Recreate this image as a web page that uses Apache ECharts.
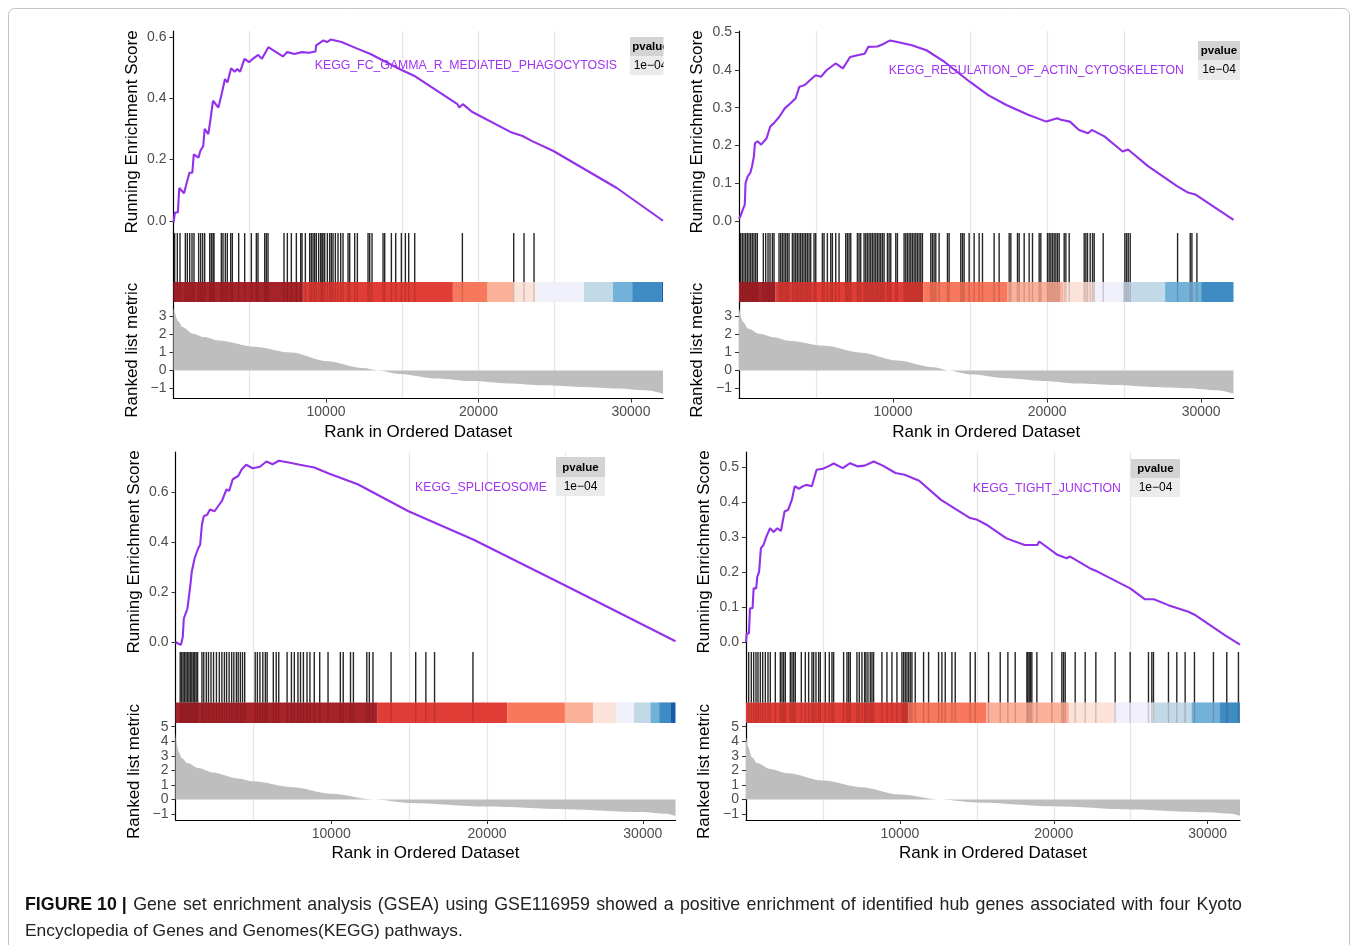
<!DOCTYPE html>
<html>
<head>
<meta charset="utf-8">
<title>GSEA - GSE116959 KEGG</title>
<script src="https://cdn.jsdelivr.net/npm/echarts@6/dist/echarts.min.js"></script>
<style>
    html, body { margin: 0; padding: 0; background: #fff; }
    #chart { width: 1357px; height: 945px; }
</style>
</head>
<body>
<div id="chart"></div>
<script>
// x axis: genes ranked in the ordered dataset
var N_GENES = 32100;
var RANK_TICKS = [10000, 20000, 30000];

// KEGG_FC_GAMMA_R_MEDIATED_PHAGOCYTOSIS
var fcgrScore = [[0, -0.005], [95, 0.027], [285, 0.027], [380, 0.107], [689, 0.09], [926, 0.135], [1045, 0.157], [1235, 0.157],
    [1330, 0.217], [1639, 0.206], [1758, 0.228], [1948, 0.244], [2043, 0.30], [2280, 0.283], [2423, 0.33], [2589, 0.392],
    [2945, 0.37], [3183, 0.42], [3373, 0.463], [3539, 0.452], [3776, 0.498], [4014, 0.487], [4180, 0.496], [4370, 0.487],
    [4655, 0.529], [4964, 0.518], [5201, 0.529], [5558, 0.542], [5795, 0.529], [6223, 0.567], [6626, 0.554], [7173, 0.537],
    [7458, 0.551], [7933, 0.545], [8408, 0.551], [8883, 0.549], [9310, 0.553], [9358, 0.573], [9833, 0.589], [10070, 0.584],
    [10308, 0.592], [11020, 0.584], [11970, 0.564], [12920, 0.545], [14820, 0.496], [15770, 0.474], [18620, 0.381],
    [18739, 0.37], [18976, 0.381], [19570, 0.356], [22183, 0.288], [22301, 0.283], [22895, 0.277], [23489, 0.261],
    [24914, 0.228], [29070, 0.107], [32100, 0.0]];
var fcgrHits = [77, 251, 426, 776, 907, 1060, 1213, 1344, 1650, 1782, 1913, 2044, 2372, 2481, 2590, 2656, 3137, 3246, 3399,
    3530, 3749, 3858, 4274, 4667, 5104, 5432, 5541, 5979, 6088, 6198, 7247, 7466, 7728, 8056, 8340, 8428, 8647, 8931, 9040,
    9150, 9259, 9368, 9521, 9652, 9740, 9805, 9915, 10090, 10243, 10352, 10461, 10614, 10789, 10964, 11117, 11445, 11555,
    11882, 12057, 12757, 12866, 13019, 13741, 13850, 14287, 14571, 14943, 15205, 15424, 15818, 18944, 22309, 22987, 23643];
var fcgrBins = [0, 8480, 18320, 20600, 22300, 23730, 26920, 28820, 30080, 32000, 32100];
var fcgrLevels = [0, 1, 2, 3, 4, 5, 6, 7, 8, 9];
var fcgrMetric = [[0, 3.45], [333, 2.7], [570, 2.4], [1283, 2.03], [1995, 1.84], [2945, 1.65], [5320, 1.31], [7695, 0.99],
    [10070, 0.51], [12445, 0.13], [13395, 0], [14820, -0.19], [17195, -0.44], [19570, -0.59], [21945, -0.72], [24320, -0.82],
    [26695, -0.91], [29070, -1.0], [30970, -1.1], [32100, -1.29]];

// KEGG_REGULATION_OF_ACTIN_CYTOSKELETON
var actinScore = [[0, 0.006], [94, 0.013], [259, 0.031], [377, 0.044], [424, 0.10], [566, 0.118], [731, 0.127], [849, 0.145],
    [967, 0.171], [1038, 0.206], [1203, 0.211], [1439, 0.202], [1792, 0.219], [2028, 0.25], [2264, 0.259], [2617, 0.276],
    [2971, 0.298], [3325, 0.311], [3679, 0.325], [3914, 0.355], [4268, 0.36], [4622, 0.373], [4975, 0.386], [5329, 0.382],
    [5683, 0.399], [6272, 0.417], [6744, 0.404], [7215, 0.434], [7687, 0.439], [8159, 0.443], [8394, 0.461], [8984, 0.462],
    [9338, 0.468], [9809, 0.478], [10281, 0.474], [11224, 0.465], [12167, 0.452], [13346, 0.421], [14997, 0.368],
    [16176, 0.333], [17355, 0.307], [18770, 0.281], [19949, 0.263], [20656, 0.272], [20892, 0.268], [21482, 0.263],
    [22071, 0.241], [22660, 0.232], [22896, 0.241], [23721, 0.224], [24900, 0.184], [25254, 0.189], [26551, 0.145],
    [28437, 0.092], [29145, 0.075], [29616, 0.07], [32100, 0.003]];
var actinHits = [108, 217, 325, 433, 541, 650, 758, 866, 974, 1083, 1191, 1580, 1732, 1884, 2013, 2165, 2273, 2598, 2706,
    2815, 2923, 3031, 3139, 3248, 3464, 3572, 3681, 3789, 3897, 4005, 4114, 4222, 4330, 4438, 4547, 4655, 4871, 4980, 5413,
    5521, 5737, 5954, 6062, 6279, 6495, 6928, 7036, 7145, 7253, 7686, 7794, 7902, 8119, 8227, 8335, 8444, 8552, 8660, 8768,
    8877, 8985, 9093, 9201, 9310, 9418, 9634, 9743, 9851, 10176, 10284, 10717, 10825, 10933, 11042, 11150, 11258, 11366,
    11475, 11583, 11691, 11799, 11908, 12449, 12557, 12665, 12774, 12990, 13531, 13640, 14397, 14506, 14614, 14939, 15263,
    15588, 15805, 16562, 16887, 17537, 17645, 18078, 18186, 18511, 18836, 19052, 19485, 19593, 20026, 20135, 20243, 20351,
    20459, 20568, 20676, 20784, 21109, 21217, 21434, 22408, 22516, 22624, 22797, 22949, 23057, 23642, 25049, 25157, 25266,
    25396, 28470, 29292, 29400, 29725];
var actinBins = [0, 2380, 11970, 17440, 21040, 23090, 24930, 27660, 30000, 32100];
var actinLevels = [0, 1, 2, 3, 4, 5, 6, 7, 8];
var actinMetric = [[0, 3.43], [259, 2.68], [613, 2.3], [1321, 2.02], [2264, 1.83], [3207, 1.64], [5565, 1.36], [7923, 0.98],
    [10281, 0.55], [12639, 0.17], [13582, 0], [14997, -0.21], [17355, -0.43], [19713, -0.58], [22071, -0.72], [24429, -0.81],
    [26787, -0.91], [29145, -0.98], [31031, -1.09], [32100, -1.28]];

// KEGG_SPLICEOSOME
var spliceScore = [[0, 0], [186, -0.007], [349, -0.011], [465, 0.02], [535, 0.094], [768, 0.134], [954, 0.228], [1047, 0.282],
    [1233, 0.336], [1465, 0.376], [1582, 0.389], [1698, 0.47], [1814, 0.503], [2047, 0.51], [2210, 0.53], [2512, 0.523],
    [2745, 0.544], [2977, 0.564], [3280, 0.611], [3442, 0.604], [3675, 0.651], [4024, 0.664], [4257, 0.691], [4536, 0.709],
    [4954, 0.695], [5420, 0.701], [5838, 0.722], [6234, 0.711], [6629, 0.725], [7280, 0.718], [7978, 0.709], [8909, 0.698],
    [9839, 0.674], [11700, 0.631], [14956, 0.523], [19143, 0.409], [24958, 0.228], [32100, 0.003]];
var spliceHits = [302, 395, 488, 582, 675, 768, 861, 954, 1047, 1140, 1233, 1326, 1419, 1698, 1814, 1977, 2117, 2279, 2442,
    2628, 2814, 2977, 3140, 3280, 3442, 3605, 3745, 3908, 4024, 4164, 4303, 4443, 5117, 5257, 5420, 5606, 5768, 5885, 6280,
    6466, 6629, 7164, 7443, 7629, 7862, 8025, 8211, 8444, 8630, 8909, 9258, 9793, 10583, 10769, 11235, 11421, 12281, 12444,
    12677, 13840, 15421, 16073, 16631, 19097];
var spliceBins = [0, 12980, 21300, 25000, 26810, 28330, 29440, 30490, 31050, 31810, 32100];
var spliceLevels = [0, 1, 2, 3, 4, 5, 6, 7, 8, 9];
var spliceMetric = [[0, 4.55], [70, 3.86], [186, 3.3], [419, 2.84], [768, 2.5], [1465, 2.16], [2396, 1.86], [4024, 1.45],
    [5000, 1.25], [7500, 0.85], [10000, 0.4], [12800, 0], [15000, -0.23], [20000, -0.48], [25000, -0.66], [30000, -0.86],
    [31500, -0.98], [32100, -1.14]];

// KEGG_TIGHT_JUNCTION
var tightScore = [[0, 0], [47, 0.024], [189, 0.024], [260, 0.096], [426, 0.096], [496, 0.153], [662, 0.153], [733, 0.186],
    [851, 0.2], [969, 0.268], [1135, 0.277], [1324, 0.301], [1560, 0.325], [1797, 0.314], [2033, 0.325], [2269, 0.317],
    [2506, 0.373], [2742, 0.378], [2979, 0.406], [3168, 0.445], [3451, 0.438], [3688, 0.445], [3924, 0.449], [4279, 0.445],
    [4586, 0.492], [4988, 0.495], [5343, 0.502], [5697, 0.51], [6288, 0.497], [6761, 0.511], [7234, 0.502], [7707, 0.504],
    [8298, 0.516], [8889, 0.504], [9716, 0.483], [10307, 0.478], [11253, 0.461], [12671, 0.406], [14562, 0.354],
    [15035, 0.349], [15626, 0.335], [16926, 0.296], [18108, 0.277], [18936, 0.277], [19054, 0.287], [20236, 0.249],
    [20827, 0.239], [21063, 0.244], [22363, 0.21], [22836, 0.201], [24964, 0.153], [25909, 0.122], [26500, 0.122],
    [27446, 0.105], [28746, 0.086], [29219, 0.076], [31110, 0.019], [32100, -0.008]];
var tightHits = [173, 346, 498, 650, 779, 931, 1083, 1256, 1429, 1580, 1905, 2230, 2338, 2446, 2555, 2879, 2988, 3096, 3204,
    3594, 3854, 4070, 4287, 4395, 4547, 4720, 4828, 5153, 5413, 5586, 5694, 6343, 6560, 6668, 6777, 7209, 7361, 7534, 7707,
    7794, 7924, 8075, 8184, 8292, 8833, 9158, 9483, 9807, 10132, 10241, 10349, 10457, 10565, 10673, 10782, 10998, 11539,
    11864, 12513, 12730, 12946, 13380, 13596, 14570, 14895, 15761, 16519, 17017, 17493, 18251, 18316, 18403, 18489, 18576,
    18901, 19875, 20524, 20632, 20741, 21390, 22040, 22733, 23988, 24962, 26153, 26369, 26478, 27452, 27993, 28535, 29141,
    30375, 31241, 31999];
var tightBins = [0, 10550, 15600, 20980, 23970, 26490, 28950, 30760, 32100];
var tightLevels = [1, 2, 3, 4, 5, 6, 7, 8];
var tightMetric = [[0, 4.3], [142, 3.6], [378, 2.9], [733, 2.5], [1560, 2.1], [2742, 1.8], [5000, 1.3], [7470, 0.85],
    [10000, 0.35], [12670, 0], [15000, -0.2], [20000, -0.46], [25000, -0.68], [30000, -0.87], [31500, -0.98], [32100, -1.12]];

var PVALUE = '1e\u221204';
var CAPTION_HEAD = 'FIGURE 10 |';
var CAPTION_LINE1 = 'Gene set enrichment analysis (GSEA) using GSE116959 showed a positive enrichment of identified hub genes associated with four Kyoto';
var CAPTION_LINE2 = 'Encyclopedia of Genes and Genomes(KEGG) pathways.';


(function () {
    var FONT = '"Liberation Sans", Arial, Helvetica, sans-serif';
    var PURPLE = '#9331EA';
    var GRID_LINE = '#E6E6E6';
    // metric bins, dark red -> dark blue
    var PALETTE = ['#A6232A', '#DF3D36', '#F7785D', '#FBB19A', '#FCE3DA', '#EFF0FA', '#C2D9E8', '#72B1D8', '#3F8BC3', '#155DA6'];
    var BAR_TOP = 0.29;

    function minusFmt(v) {
        return v < 0 ? '\u2212' + Math.abs(v) : String(v);
    }

    window.gsea = {
        panels: [
            {name: 'KEGG_FC_GAMMA_R_MEDIATED_PHAGOCYTOSIS', score: fcgrScore, hits: fcgrHits, bins: fcgrBins, levels: fcgrLevels,
                metric: fcgrMetric, left: 173.5, width: 489.5, rows: [31, 202, 233, 69, 302, 96.5],
                esRange: [-0.04, 0.62], esTicks: [0, 0.2, 0.4, 0.6], metRange: [-1.55, 3.78], metTicks: [-1, 0, 1, 2, 3],
                label: [617, 66], table: [630, 37, 41, 19, 19], clipAt: 663.5},
            {name: 'KEGG_REGULATION_OF_ACTIN_CYTOSKELETON', score: actinScore, hits: actinHits, bins: actinBins, levels: actinLevels,
                metric: actinMetric, left: 739, width: 494.5, rows: [31, 202, 233, 69, 302, 96.5],
                esRange: [-0.032, 0.503], esTicks: [0, 0.1, 0.2, 0.3, 0.4, 0.5], metRange: [-1.55, 3.78], metTicks: [-1, 0, 1, 2, 3],
                label: [1184, 70.5], table: [1198, 41, 42, 19, 20]},
            {name: 'KEGG_SPLICEOSOME', score: spliceScore, hits: spliceHits, bins: spliceBins, levels: spliceLevels,
                metric: spliceMetric, left: 175.5, width: 500, rows: [452, 200, 652, 71, 723, 97],
                esRange: [-0.04, 0.76], esTicks: [0, 0.2, 0.4, 0.6], metRange: [-1.4, 5.25], metTicks: [-1, 0, 1, 2, 3, 4, 5],
                label: [547, 487.5], table: [556, 457, 49, 20, 19]},
            {name: 'KEGG_TIGHT_JUNCTION', score: tightScore, hits: tightHits, bins: tightBins, levels: tightLevels,
                metric: tightMetric, left: 746, width: 494, rows: [452, 200, 652, 71, 723, 97],
                esRange: [-0.029, 0.543], esTicks: [0, 0.1, 0.2, 0.3, 0.4, 0.5], metRange: [-1.4, 5.25], metTicks: [-1, 0, 1, 2, 3, 4, 5],
                label: [1121, 488.5], table: [1131, 459, 49, 19, 19]}
        ],

        init: function () {
            var option = {
                animation: false,
                backgroundColor: '#fff',
                textStyle: {fontFamily: FONT},
                grid: [], xAxis: [], yAxis: [], series: [], graphic: []
            };
            var self = this;
            this.panels.forEach(function (p, i) {
                self.addPanel(option, p, i * 3);
            });
            this.addCaption(option);

            var chart = echarts.init(document.getElementById('chart'), null, {renderer: 'canvas'});
            chart.setOption(option);
        },

        xAxisFor: function (g, bottom) {
            return {
                type: 'value', gridIndex: g, min: 0, max: N_GENES, interval: 10000,
                axisLine: {show: bottom, onZero: false, lineStyle: {color: '#000', width: 1.2}},
                axisTick: {show: bottom, customValues: RANK_TICKS, length: 4, lineStyle: {color: '#333'}},
                axisLabel: {show: bottom, customValues: RANK_TICKS, margin: 7, fontSize: 14, color: '#4D4D4D',
                    formatter: function (v) { return String(v); }},
                splitLine: {show: true, showMinLine: false, showMaxLine: false, lineStyle: {color: GRID_LINE, width: 1.3}},
                minorTick: {show: false, splitNumber: 2},
                minorSplitLine: {show: true, lineStyle: {color: GRID_LINE, width: 1.3}},
                name: bottom ? 'Rank in Ordered Dataset' : '', nameLocation: 'middle', nameGap: 25,
                nameTextStyle: {fontSize: 17, color: '#000'}
            };
        },

        yAxisFor: function (g, range, ticks, fmt, name) {
            return {
                type: 'value', gridIndex: g, min: range[0], max: range[1],
                axisLine: {show: true, onZero: false, lineStyle: {color: '#000', width: 1.2}},
                axisTick: {show: !!ticks, customValues: ticks || [], length: 4, lineStyle: {color: '#333'}},
                axisLabel: {show: !!ticks, customValues: ticks || [], margin: 7, fontSize: 14, color: '#4D4D4D', formatter: fmt},
                splitLine: {show: false},
                name: name || '', nameLocation: 'middle', nameGap: 33,
                nameTextStyle: {fontSize: 17, color: '#000'}
            };
        },

        addPanel: function (option, p, g) {
            var r = p.rows;
            //三个子图：ES曲线 / 命中基因 / 排序指标
            option.grid.push({left: p.left, width: p.width, top: r[0], height: r[1]});
            option.grid.push({left: p.left, width: p.width, top: r[2], height: r[3]});
            option.grid.push({left: p.left, width: p.width, top: r[4], height: r[5]});

            option.xAxis.push(this.xAxisFor(g, false), this.xAxisFor(g + 1, false), this.xAxisFor(g + 2, true));
            option.yAxis.push(
                this.yAxisFor(g, p.esRange, p.esTicks, function (v) { return v.toFixed(1); }, 'Running Enrichment Score'),
                this.yAxisFor(g + 1, [0, 1], null, null, ''),
                this.yAxisFor(g + 2, p.metRange, p.metTicks, minusFmt, 'Ranked list metric')
            );

            // running enrichment score
            option.series.push({
                type: 'line', xAxisIndex: g, yAxisIndex: g, data: p.score,
                showSymbol: false, symbol: 'none', lineStyle: {color: PURPLE, width: 2.1}, z: 3
            });

            // color bar of the ranked list
            var bars = [];
            for (var k = 0; k < p.levels.length; k++) {
                bars.push([p.bins[k], p.bins[k + 1], p.levels[k]]);
            }
            option.series.push({
                type: 'custom', xAxisIndex: g + 1, yAxisIndex: g + 1, data: bars,
                encode: {x: [0, 1], y: -1},
                renderItem: function (params, api) {
                    var a = api.coord([api.value(0), BAR_TOP]);
                    var b = api.coord([api.value(1), 0]);
                    return {type: 'rect', shape: {x: a[0], y: a[1], width: b[0] - a[0], height: b[1] - a[1]},
                        style: {fill: PALETTE[api.value(2)]}};
                }, z: 2
            });

            // hit genes
            var hitData = p.hits.map(function (h) { return [h, 1]; });
            option.series.push({
                type: 'custom', xAxisIndex: g + 1, yAxisIndex: g + 1, data: hitData,
                renderItem: function (params, api) {
                    var top = api.coord([api.value(0), 1]);
                    var mid = api.coord([api.value(0), BAR_TOP]);
                    var bot = api.coord([api.value(0), 0]);
                    return {type: 'group', children: [
                        {type: 'line', shape: {x1: top[0], y1: top[1], x2: mid[0], y2: mid[1]},
                            style: {stroke: 'rgba(0,0,0,0.85)', lineWidth: 1.4}},
                        {type: 'line', shape: {x1: mid[0], y1: mid[1], x2: bot[0], y2: bot[1]},
                            style: {stroke: 'rgba(60,0,0,0.18)', lineWidth: 1.4}}
                    ]};
                }, z: 3
            });

            // ranked list metric
            option.series.push({
                type: 'line', xAxisIndex: g + 2, yAxisIndex: g + 2, data: p.metric,
                showSymbol: false, symbol: 'none', smooth: 0.3, smoothMonotone: 'x',
                lineStyle: {width: 0}, areaStyle: {color: '#BEBEBE', opacity: 1}, z: 2
            });

            // gene set name + pvalue table
            var t = p.table;
            option.graphic.push({
                type: 'text', x: p.label[0], y: p.label[1], z: 10,
                style: {text: p.name, fill: '#A033F0', fontSize: 12.3, fontFamily: FONT, align: 'right', verticalAlign: 'middle'}
            });
            option.graphic.push({type: 'rect', z: 9, shape: {x: t[0], y: t[1], width: t[2], height: t[3]}, style: {fill: '#D3D3D3'}});
            option.graphic.push({type: 'rect', z: 9, shape: {x: t[0], y: t[1] + t[3], width: t[2], height: t[4]}, style: {fill: '#EBEBEB'}});
            option.graphic.push({type: 'text', z: 10, x: t[0] + t[2] / 2, y: t[1] + t[3] / 2 + 0.5,
                style: {text: 'pvalue', fill: '#000', fontSize: 11.5, fontWeight: 'bold', fontFamily: FONT, align: 'center', verticalAlign: 'middle'}});
            option.graphic.push({type: 'text', z: 10, x: t[0] + t[2] / 2, y: t[1] + t[3] + t[4] / 2,
                style: {text: PVALUE, fill: '#000', fontSize: 12, fontFamily: FONT, align: 'center', verticalAlign: 'middle'}});
            // table cut off by the panel border
            if (p.clipAt) {
                option.graphic.push({type: 'rect', z: 11, shape: {x: p.clipAt, y: t[1] - 2, width: 16, height: t[3] + t[4] + 4},
                    style: {fill: '#fff'}});
            }
        },

        addCaption: function (option) {
            option.graphic.push({
                type: 'rect', z: 0, shape: {x: 8.5, y: 8.5, width: 1341, height: 960, r: 6},
                style: {fill: 'none', stroke: '#C4C4C4', lineWidth: 1}
            });

            //第一行两端对齐
            var size1 = 17.8;
            var ctx = document.createElement('canvas').getContext('2d');
            var tokens = [{text: CAPTION_HEAD, bold: true}].concat(CAPTION_LINE1.split(' ').map(function (w) {
                return {text: w, bold: false};
            }));
            var total = 0;
            tokens.forEach(function (tk) {
                ctx.font = (tk.bold ? 'bold ' : '') + size1 + 'px ' + FONT;
                tk.w = ctx.measureText(tk.text).width;
                total += tk.w;
            });
            var x0 = 25, x1 = 1242;
            var gap = (x1 - x0 - total) / (tokens.length - 1);
            var x = x0;
            tokens.forEach(function (tk) {
                option.graphic.push({
                    type: 'text', x: x, y: 905, z: 10,
                    style: {text: tk.text, fill: tk.bold ? '#111' : '#222', fontSize: size1,
                        fontWeight: tk.bold ? 'bold' : 'normal', fontFamily: FONT, verticalAlign: 'middle'}
                });
                x += tk.w + gap;
            });

            option.graphic.push({
                type: 'text', x: 25, y: 931, z: 10,
                style: {text: CAPTION_LINE2, fill: '#222', fontSize: 17.4, fontFamily: FONT, verticalAlign: 'middle'}
            });
        }
    };
})();


window.addEventListener('DOMContentLoaded', function () {
    try {
        gsea.init();
    } catch (e) {
        console.error(e);
    }
});
</script>
</body>
</html>
